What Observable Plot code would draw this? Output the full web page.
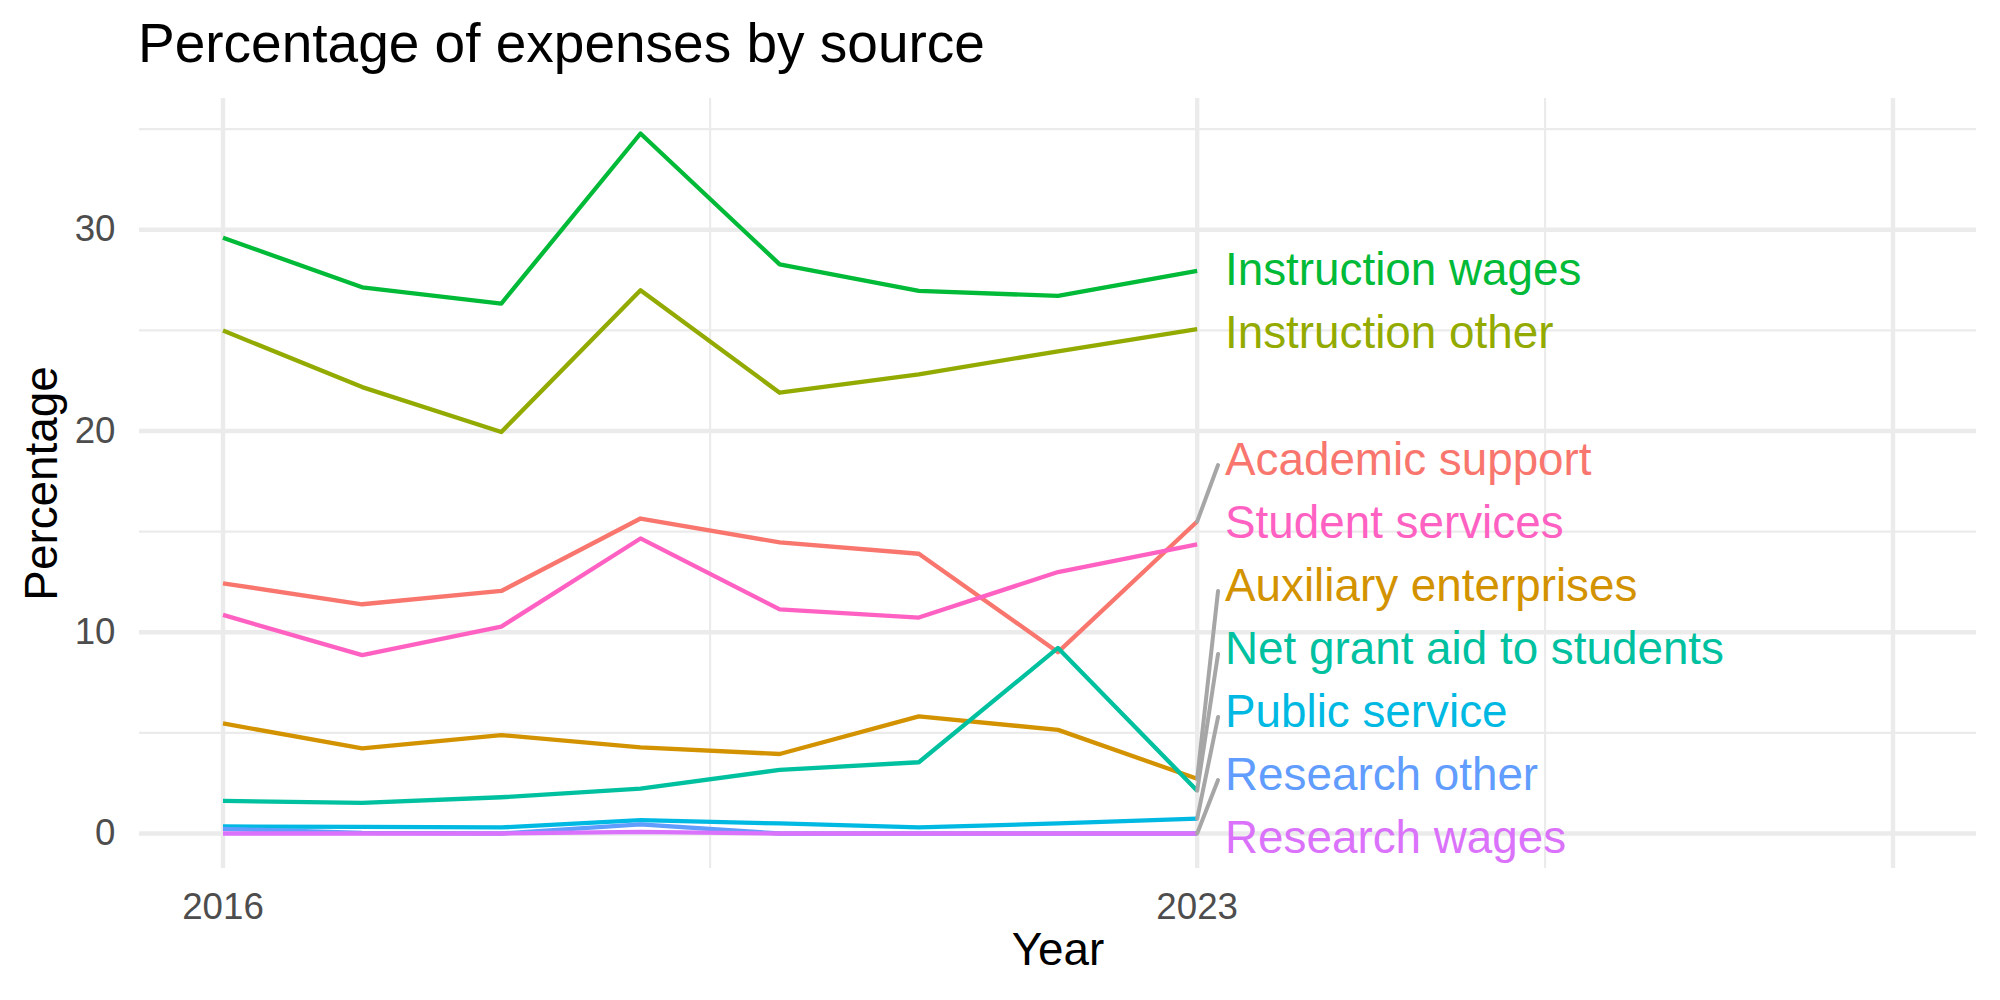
<!DOCTYPE html>
<html>
<head>
<meta charset="utf-8">
<script src="https://cdn.jsdelivr.net/npm/d3@7"></script>
<script src="https://cdn.jsdelivr.net/npm/@observablehq/plot@0.6"></script>
<style>
  html, body { margin: 0; padding: 0; background: #ffffff; }
  body { width: 2000px; height: 1000px; overflow: hidden; font-family: "Liberation Sans", Arial, Helvetica, sans-serif; }
  #title { height: 80px; line-height: 87px; padding-left: 138px; font-size: 55px; color: #000000; white-space: nowrap; }
  #chart svg { display: block; font-family: "Liberation Sans", Arial, Helvetica, sans-serif; }
</style>
</head>
<body>
<div id="title">Percentage of expenses by source</div>
<div id="chart"></div>
<script>
// Expense shares (%) by year for each source
const years = [2016, 2017, 2018, 2019, 2020, 2021, 2022, 2023];

const seriesNames = [
  "Academic support",
  "Auxiliary enterprises",
  "Instruction other",
  "Instruction wages",
  "Net grant aid to students",
  "Public service",
  "Research other",
  "Research wages",
  "Student services"
];

const academicSupport      = [12.43, 11.39, 12.05, 15.65, 14.46, 13.90,  9.01, 15.50];
const auxiliaryEnterprises = [ 5.47,  4.23,  4.89,  4.28,  3.95,  5.82,  5.15,  2.72];
const instructionOther     = [24.99, 22.18, 19.95, 26.99, 21.90, 22.81, 23.96, 25.06];
const instructionWages     = [29.60, 27.14, 26.33, 34.78, 28.28, 26.96, 26.71, 27.95];
const netGrantAid          = [ 1.62,  1.52,  1.80,  2.23,  3.16,  3.54,  9.22,  2.13];
const publicService        = [ 0.35,  0.33,  0.30,  0.66,  0.50,  0.30,  0.50,  0.74];
const researchOther        = [ 0.23,  0.03,  0.00,  0.45,  0.00,  0.00,  0.00,  0.00];
const researchWages        = [ 0.00,  0.00,  0.00,  0.08,  0.00,  0.00,  0.00,  0.00];
const studentServices      = [10.86,  8.86, 10.28, 14.66, 11.14, 10.73, 12.99, 14.36];

// Axis breaks and labels
const xLimits = [2016, 2028];
const xTickLabels = [2016, 2023];
const xMajorBreaks = [2016, 2023, 2028];
const xMinorBreaks = [2019.5, 2025.5];
const yMajorBreaks = [0, 10, 20, 30];
const yMinorBreaks = [5, 15, 25, 35];

// Discrete hue palette, one colour per source
const palette = ["#F8766D", "#D39200", "#93AA00", "#00BA38", "#00C19F", "#00B9E3", "#619CFF", "#DB72FB", "#FF61C3"];

// ---- build the long table ----
const valuesBySeries = [
  academicSupport, auxiliaryEnterprises, instructionOther, instructionWages,
  netGrantAid, publicService, researchOther, researchWages, studentServices
];
const rows = seriesNames.flatMap((s, i) =>
  years.map((yr, j) => ({series: s, year: yr, value: valuesBySeries[i][j]}))
);

// ---- scale domains with 5% expansion ----
const allValues = rows.map(d => d.value);
const yLo = d3.min(allValues), yHi = d3.max(allValues);
const yPad = 0.05 * (yHi - yLo);
const xPad = 0.05 * (xLimits[1] - xLimits[0]);
const yDomain = [yLo - yPad, yHi + yPad];

// ---- end-of-line labels, spread apart so they do not overlap ----
const lastYear = d3.max(years);
const labelGap = 3.13;                       // vertical spacing between labels, in percentage points
const labelFloor = yDomain[0] + labelGap / 2; // keep the lowest label inside the panel
const labelCeil = yDomain[1] - labelGap / 2;
const labelNudge = 0.2;                      // horizontal offset from the last point, in years

const ends = seriesNames.map((s, i) => ({series: s, value: valuesBySeries[i][valuesBySeries[i].length - 1]}));
const stacked = [...ends].sort((a, b) => (a.value - b.value) || b.series.localeCompare(a.series));

// 1-D cluster placement: overlapping labels are merged into evenly spaced groups
// centred on their targets, clamped to the panel.
function placeCluster(c) {
  const n = c.items.length;
  let start = d3.mean(c.items, (e, k) => e.value - k * labelGap);
  start = Math.min(Math.max(start, labelFloor), labelCeil - (n - 1) * labelGap);
  c.start = start;
}
let clusters = stacked.map(e => ({items: [e]}));
clusters.forEach(placeCluster);
let merged = true;
while (merged) {
  merged = false;
  for (let i = 0; i < clusters.length - 1; i++) {
    const a = clusters[i], b = clusters[i + 1];
    if (a.start + a.items.length * labelGap > b.start + 1e-9) {
      const c = {items: a.items.concat(b.items)};
      placeCluster(c);
      clusters.splice(i, 2, c);
      merged = true;
      break;
    }
  }
}
for (const c of clusters) c.items.forEach((e, k) => { e.labelY = c.start + k * labelGap; });

const connectors = ends.filter(e => Math.abs(e.labelY - e.value) > 1.5);

const W = 2000, H = 920;
const gridColor = "#EBEBEB";

const chart = Plot.plot({
  width: W,
  height: H,
  marginTop: 18,
  marginBottom: 132,
  marginLeft: 139,
  marginRight: 24,
  style: {background: "#ffffff", overflow: "visible"},
  x: {domain: [xLimits[0] - xPad, xLimits[1] + xPad]},
  y: {domain: yDomain},
  color: {domain: seriesNames, range: palette},
  marks: [
    // panel grid
    Plot.ruleX(xMinorBreaks, {stroke: gridColor, strokeWidth: 2.2}),
    Plot.ruleY(yMinorBreaks, {stroke: gridColor, strokeWidth: 2.2}),
    Plot.ruleX(xMajorBreaks, {stroke: gridColor, strokeWidth: 4.4}),
    Plot.ruleY(yMajorBreaks, {stroke: gridColor, strokeWidth: 4.4}),

    // one line per source
    Plot.line(rows, {
      x: "year", y: "value", z: "series", stroke: "series",
      strokeWidth: 4.3, strokeLinecap: "butt", strokeLinejoin: "round"
    }),

    // connectors from the last point to labels that were moved
    Plot.link(connectors, {
      x1: () => lastYear, y1: "value",
      x2: () => lastYear + 0.15, y2: d => d.labelY - 0.3,
      stroke: "#A6A6A6", strokeWidth: 4, strokeLinecap: "round"
    }),

    // series labels
    Plot.text(ends, {
      x: () => lastYear + labelNudge, y: "labelY", text: "series",
      fill: "series", fontSize: 45.8, textAnchor: "start", lineAnchor: "middle", dy: 1.5
    }),

    // axes
    Plot.axisX(xTickLabels, {
      tickSize: 0, tickPadding: 24, fontSize: 36.7, fill: "#4D4D4D",
      tickFormat: d => String(d), label: null
    }),
    Plot.axisY(yMajorBreaks, {
      tickSize: 0, tickPadding: 24, fontSize: 36.7, fill: "#4D4D4D",
      tickFormat: d => String(d), label: null
    }),

    // axis titles
    Plot.text(["Year"], {
      frameAnchor: "bottom", text: d => d, dy: 82,
      textAnchor: "middle", lineAnchor: "middle", fontSize: 45.8, fill: "#000000"
    }),
    Plot.text(["Percentage"], {
      frameAnchor: "left", text: d => d, dx: -97, rotate: -90,
      textAnchor: "middle", lineAnchor: "middle", fontSize: 45.8, fill: "#000000"
    })
  ]
});

document.getElementById("chart").appendChild(chart);
</script>
</body>
</html>
